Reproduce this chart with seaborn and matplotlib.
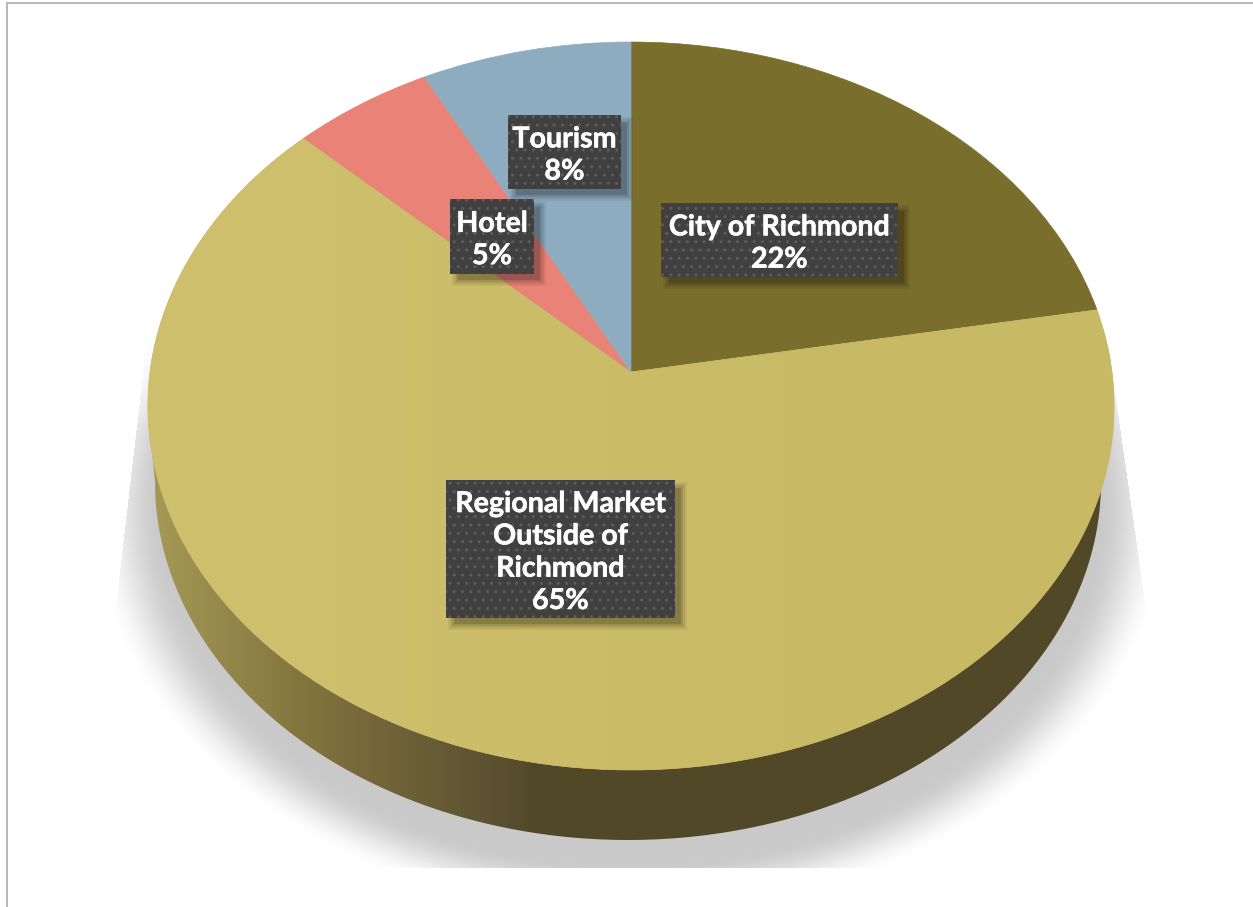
import numpy as np
import matplotlib.pyplot as plt
import matplotlib.patheffects as pe
import seaborn as sns
from matplotlib.colors import LinearSegmentedColormap
from matplotlib.patches import PathPatch, Polygon, Rectangle
from matplotlib.path import Path

categories = ['City of Richmond', 'Regional Market\nOutside of\nRichmond', 'Hotel', 'Tourism']
shares = [22.2, 64.9, 5.2, 7.7]
slice_colors = ['#7a6e2c', '#c9b966', '#e98378', '#8eacc0']

# label boxes in pixels: left, top, right, bottom
label_boxes = [(661, 203, 898, 277), (446, 480, 675, 618), (450, 199, 534, 274), (508, 115, 621, 189)]

W, H = 1253, 907

sns.set_theme(style='white')
plt.rcParams['font.family'] = ['Lato', 'DejaVu Sans']
palette = sns.color_palette(slice_colors)

fig = plt.figure(figsize=(W / 100, H / 100), dpi=100, facecolor='white')
ax = fig.add_axes([0, 0, 1, 1])


def project(verts):
    # unit circle to the tilted disc, centre lands on the apex
    k, a, b = 0.0934, 481, 360.8
    d = 1 + k * verts[:, 1]
    return np.column_stack([631 + a * verts[:, 0] / d, 372 - b * verts[:, 1] / d])


wedges, _ = ax.pie(shares, colors=palette, startangle=90, counterclock=False, radius=1)
discs = []
for w, col in zip(wedges, palette):
    p = w.get_path()
    discs.append(PathPatch(Path(project(p.vertices), p.codes), facecolor=col, edgecolor=col, lw=0.5, zorder=5))
    w.remove()

# drop shadow behind the disc
yy, xx = np.mgrid[0:H, 0:W]
r = np.sqrt(((xx - 630) / 530.0) ** 2 + ((yy - 510) / 400.0) ** 2)
alpha = np.clip((1.02 - r) / 0.14, 0, 1)
alpha = alpha * alpha * (3 - 2 * alpha)
left_edge = 150 - (yy - 310) * 35 / 300.0
right_edge = 1113 + (yy - 380) * 32 / 225.0
alpha[(xx < left_edge) | (xx > right_edge)] = 0
alpha *= np.clip((yy - 300) / 130.0, 0, 1)
alpha[yy > 867] = 0
shadow = np.zeros((H, W, 4))
shadow[..., :3] = 0.79
shadow[..., 3] = alpha
ax.imshow(shadow, extent=(0, W, H, 0), aspect='auto', zorder=1, interpolation='bilinear')

# side wall of the disc, shaded left to right
t = np.linspace(np.pi, 0, 200)
wall_pts = np.column_stack([628 + 473 * np.cos(t), 482 + 358 * np.sin(t)])
wall_pts = np.vstack([[148, 406], wall_pts, [1114, 406]])
wall_cmap = LinearSegmentedColormap.from_list('wall', [
    (0.0, '#a59a55'), (0.157, '#82763f'), (0.26, '#6e6238'), (0.364, '#5a5030'), (0.405, '#504826'), (1.0, '#504826')])
wall = ax.imshow(np.linspace(0, 1, 256).reshape(1, -1), cmap=wall_cmap, extent=(148, 1114, 860, 400),
                 aspect='auto', zorder=2)
wall_clip = Polygon(wall_pts, closed=True, transform=ax.transData, facecolor='none', edgecolor='none')
ax.add_patch(wall_clip)
wall.set_clip_path(wall_clip)

for d in discs:
    ax.add_patch(d)

# the big slice is a little lighter towards the left
sheen_cmap = LinearSegmentedColormap.from_list('sheen', [(0, '#cebf6c'), (0.2, '#cebf6c'), (0.75, '#c8b964'), (1, '#c8b964')])
sheen = ax.imshow(np.linspace(0, 1, 128).reshape(1, -1), cmap=sheen_cmap, extent=(140, 1120, 780, 130),
                  aspect='auto', zorder=5.5)
sheen.set_clip_path(discs[1])

# labels
for name, share, (x0, y0, x1, y1) in zip(categories, shares, label_boxes):
    for grow, al in [(6, 0.06), (4, 0.08), (2, 0.10), (0, 0.14)]:
        ax.add_patch(Rectangle((x0 + 8 - grow, y0 + 8 - grow), x1 - x0 + 2 * grow - 2, y1 - y0 + 2 * grow - 2,
                               facecolor='black', edgecolor='none', alpha=al, zorder=6))
    ax.add_patch(Rectangle((x0, y0), x1 - x0, y1 - y0, facecolor='#404040', edgecolor='#5c5c5c',
                           hatch='..', lw=0, zorder=7))
    ax.text((x0 + x1) / 2, (y0 + y1) / 2 + 3.5, f'{name}\n{share:.0f}%', color='white', fontsize=20.6,
            fontweight='bold', ha='center', va='center', linespacing=1.3, zorder=8,
            path_effects=[pe.withStroke(linewidth=0.4, foreground='white')])

# thin frame of the original slide
ax.plot([7, 7, W], [H, 3, 3], color='#b8b8b8', lw=1.4, zorder=0, solid_joinstyle='miter')

ax.set_aspect('auto')
ax.set_xlim(0, W)
ax.set_ylim(H, 0)
ax.axis('off')

fig.savefig('out.png', dpi=100, facecolor='white')
